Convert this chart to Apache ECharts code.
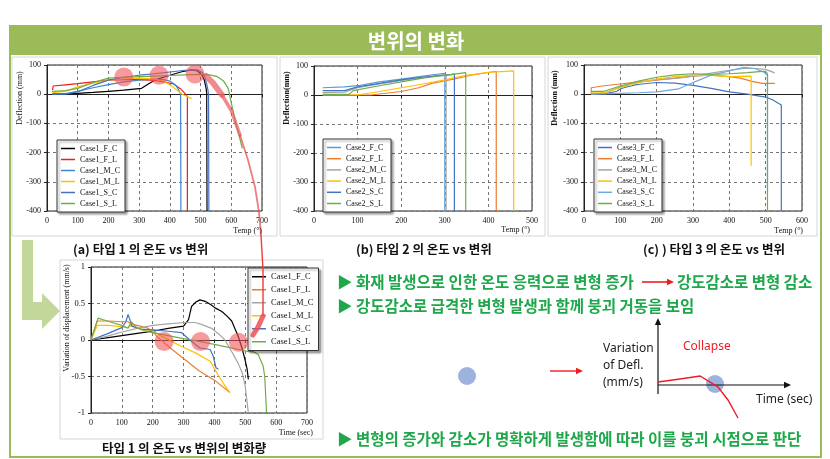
<!DOCTYPE html>
<html><head><meta charset="utf-8">
<script src="https://cdn.jsdelivr.net/npm/echarts@6/dist/echarts.min.js"></script>
<style>html,body{margin:0;padding:0;background:#fff}#c{width:830px;height:459px}</style>
</head><body><div id="c"></div>
<script>
// ---------- Data: (a) Type 1 Temp vs Deflection ----------
const case1_F_C = [[17,0],[50,1],[100,3],[150,6],[200,10],[250,14],[308,20],[330,35],[352,49],[400,65],[439,77],[471,83],[490,80],[505,65],[512,49],[518,20],[520,3],[521,-400]];
const case1_F_L = [[18,14],[20,28],[60,32],[100,36],[150,42],[200,48],[250,50],[300,50],[350,47],[380,42],[412,35],[435,18],[449,3],[457,-8],[457,-400]];
const case1_M_C = [[17,0],[60,2],[100,10],[150,22],[200,33],[250,42],[300,48],[350,52],[380,50],[400,45],[420,30],[430,12],[435,0],[436,-400]];
const case1_M_L = [[17,5],[60,10],[100,25],[150,38],[200,48],[250,52],[300,55],[350,52],[380,45],[410,25],[440,0],[471,-15]];
const case1_S_C = [[17,0],[60,0],[100,8],[150,30],[200,48],[250,58],[300,65],[350,70],[400,76],[450,82],[490,83],[505,75],[515,55],[522,26],[526,0],[527,-400]];
const case1_S_L = [[17,10],[60,12],[100,20],[150,40],[200,55],[250,58],[300,60],[350,62],[400,64],[450,66],[500,68],[530,66],[555,60],[575,45],[590,20],[600,-30],[615,-100],[625,-140],[636,-186]];
const circlesA = [[250,59],[365,65],[482,69]];

// ---------- Data: (b) Type 2 ----------
const case2_F_C = [[20,25],[70,28],[100,32],[150,45],[200,55],[250,65],[300,75],[300,-400]];
const case2_F_L = [[20,0],[130,0],[200,12],[240,25],[270,40],[320,55],[360,68],[418,82],[418,-400]];
const case2_M_C = [[20,8],[70,10],[100,25],[150,38],[200,50],[250,60],[303,72],[303,-400]];
const case2_M_L = [[20,0],[100,0],[150,12],[200,25],[250,38],[300,52],[350,68],[400,78],[458,83],[458,-400]];
const case2_S_C = [[20,15],[70,15],[100,28],[150,40],[200,52],[250,62],[300,68],[322,72],[322,-400]];
const case2_S_L = [[20,2],[80,2],[90,15],[150,32],[200,45],[250,58],[300,68],[348,77],[348,-400]];

// ---------- Data: (c) Type 3 ----------
const case3_F_C = [[20,0],[60,2],[90,10],[100,18],[105,14],[110,22],[115,17],[120,26],[125,20],[130,28],[135,24],[140,32],[160,35],[200,40],[250,38],[300,30],[350,20],[400,8],[450,0],[500,-10],[520,-20],[543,-37],[543,-400]];
const case3_F_L = [[20,0],[20,22],[50,28],[100,35],[150,42],[200,48],[250,55],[300,62],[350,65],[400,60],[430,55],[460,45],[490,37],[525,37]];
const case3_M_C = [[20,0],[60,5],[100,25],[150,40],[200,50],[260,55],[300,62],[350,72],[400,82],[440,88],[470,88],[500,85],[525,73]];
const case3_M_L = [[20,5],[55,5],[100,22],[150,40],[200,52],[250,60],[300,65],[350,64],[400,60],[460,62],[460,-245]];
const case3_S_C = [[20,0],[100,3],[150,5],[200,8],[260,18],[290,35],[320,50],[350,65],[400,80],[440,92],[470,88],[495,75],[505,65],[505,-330]];
const case3_S_L = [[20,10],[55,10],[100,28],[150,45],[200,58],[250,66],[300,70],[350,68],[400,70],[450,74],[490,78],[500,78],[505,70],[505,-400]];

// ---------- Data: (d) Type 1 Time vs variation of displacement ----------
const var1_F_C = [[0,0],[50,0.03],[100,0.06],[150,0.09],[200,0.12],[250,0.16],[300,0.19],[316,0.28],[326,0.46],[340,0.52],[353,0.55],[370,0.53],[390,0.48],[402,0.44],[424,0.39],[440,0.33],[456,0.26],[470,0.12],[477,0.05],[490,-0.12],[499,-0.27],[506,-0.40],[510,-0.54]];
const var1_F_L = [[0,0],[20,0.26],[60,0.26],[100,0.25],[120,0.25],[130,0.22],[180,0.17],[200,0.12],[213,0.05],[260,-0.12],[305,-0.27],[350,-0.42],[400,-0.55],[450,-0.72]];
const var1_M_C = [[0,0],[50,0.05],[100,0.11],[150,0.16],[200,0.2],[250,0.22],[305,0.24],[337,0.24],[360,0.21],[391,0.16],[415,0.08],[434,0],[455,-0.15],[477,-0.32],[490,-0.45],[499,-0.61],[510,-1.0]];
const var1_M_L = [[0,0],[20,0.2],[60,0.2],[120,0.17],[130,0.2],[150,0.16],[200,0.12],[230,0.05],[294,-0.09],[340,-0.18],[386,-0.29],[412,-0.48],[430,-0.6],[450,-0.72]];
const var1_S_C = [[0,0],[50,0.08],[100,0.17],[113,0.25],[120,0.35],[126,0.28],[132,0.19],[160,0.15],[200,0.14],[250,0.12],[294,0.10],[320,0.0],[353,-0.11],[386,-0.13],[396,-0.22],[405,-0.38],[413,-0.40]];
const var1_S_L = [[0,0],[23,0.30],[60,0.25],[100,0.2],[120,0.16],[130,0.25],[145,0.18],[170,0.13],[200,0.1],[250,0.06],[300,0.02],[350,-0.02],[400,-0.06],[434,-0.09],[480,-0.13],[510,-0.16],[526,-0.16],[542,-0.2],[558,-0.36],[563,-0.5],[569,-1.0]];
const circlesD = [[237,-0.02],[355,-0.02],[478,-0.03]];

const names1 = ['Case1_F_C','Case1_F_L','Case1_M_C','Case1_M_L','Case1_S_C','Case1_S_L'];
const names2 = ['Case2_F_C','Case2_F_L','Case2_M_C','Case2_M_L','Case2_S_C','Case2_S_L'];
const names3 = ['Case3_F_C','Case3_F_L','Case3_M_C','Case3_M_L','Case3_S_C','Case3_S_L'];
const colorsA = ['#000000','#e8201e','#3a86d6','#ffc000','#4472c4','#70ad47'];
const colorsB = ['#5b9bd5','#ed7d31','#a5a5a5','#ffc000','#4472c4','#70ad47'];
const colorsC = ['#4472c4','#ed7d31','#a5a5a5','#ffc000','#6fa8e0','#70ad47'];
const colorsD = ['#000000','#ed7d31','#a5a5a5','#ffc000','#4472c4','#70ad47'];

const dataA = [case1_F_C,case1_F_L,case1_M_C,case1_M_L,case1_S_C,case1_S_L];
const dataB = [case2_F_C,case2_F_L,case2_M_C,case2_M_L,case2_S_C,case2_S_L];
const dataC = [case3_F_C,case3_F_L,case3_M_C,case3_M_L,case3_S_C,case3_S_L];
const dataD = [var1_F_C,var1_F_L,var1_M_C,var1_M_L,var1_S_C,var1_S_L];

const SERIF = 'Liberation Serif';
const KR = 'Noto Sans CJK KR';
const GREEN = '#9bbb59';
const TXTGREEN = '#1ea84b';

function xAx(gi, max){
  return {type:'value', gridIndex:gi, min:0, max:max, interval:100,
    axisLine:{show:true, lineStyle:{color:'#222', width:1}},
    axisTick:{show:true, length:3, lineStyle:{color:'#222'}},
    axisLabel:{fontFamily:SERIF, fontSize:8, color:'#111', margin:6},
    splitLine:{show:true, lineStyle:{type:[3,3], color:'#777', width:1}}};
}
function yAx(gi, min, max, iv, fs){
  return {type:'value', gridIndex:gi, min:min, max:max, interval:iv,
    axisLine:{show:true, lineStyle:{color:'#222', width:1}},
    axisTick:{show:true, length:3, lineStyle:{color:'#222'}},
    axisLabel:{fontFamily:SERIF, fontSize:fs, color:'#111', margin:6},
    splitLine:{show:true, lineStyle:{type:[3,3], color:'#777', width:1}}};
}
const series = [];
function addLines(names, datas, colors, gi, prefix){
  names.forEach((n,i)=>{
    series.push({type:'line', name:prefix+n, xAxisIndex:gi, yAxisIndex:gi, data:datas[i],
      symbol:'none', showSymbol:false, animation:false, z:3,
      lineStyle:{width:1.2, color:colors[i]}, itemStyle:{color:colors[i]}});
  });
}
addLines(names1, dataA, colorsA, 0, 'a:');
addLines(names2, dataB, colorsB, 1, 'b:');
addLines(names3, dataC, colorsC, 2, 'c:');
addLines(names1, dataD, colorsD, 3, 'd:');
series.push({type:'scatter', name:'markA', xAxisIndex:0, yAxisIndex:0, data:circlesA, symbolSize:19, z:5, animation:false,
  itemStyle:{color:'rgba(240,80,85,0.72)'}});
series.push({type:'scatter', name:'markD', xAxisIndex:3, yAxisIndex:3, data:circlesD, symbolSize:19, z:5, animation:false,
  itemStyle:{color:'rgba(240,80,85,0.72)'}});

function legend(prefix, names, left, top, fs, gap){
  return {show:true, selectedMode:false, orient:'vertical', left:left, top:top,
    data:names.map(n=>prefix+n), formatter:n=>n.slice(2), icon:'rect',
    itemWidth:14, itemHeight:1.5, itemGap:gap, padding:[4,5,4,4],
    backgroundColor:'#fff', borderColor:'#333', borderWidth:1,
    shadowColor:'rgba(0,0,0,0.35)', shadowBlur:2, shadowOffsetX:2, shadowOffsetY:2,
    textStyle:{fontFamily:SERIF, fontSize:fs, color:'#111', lineHeight:fs+1}, z:10};
}

function txt(x,y,text,opt){
  return Object.assign({type:'text', x:x, y:y, z:50, style:Object.assign({text:text, fill:'#111', font:'8px '+SERIF, textAlign:'left', textVerticalAlign:'middle'}, opt||{})});
}
function rtxt(x,y,text,font){
  return {type:'text', x:x, y:y, rotation:Math.PI/2, z:50, style:{text:text, fill:'#111', font:font, textAlign:'center', textVerticalAlign:'middle'}};
}
function panel(x,y,w,h){
  return {type:'rect', z:-10, shape:{x:x,y:y,width:w,height:h}, style:{fill:'#fff', stroke:'#d6d6d6', lineWidth:1}};
}
function arrowLine(x1,y1,x2,y2,color,w,head){
  const ang = Math.atan2(y2-y1,x2-x1);
  const hx = x2 - head*Math.cos(ang), hy = y2 - head*Math.sin(ang);
  const px = -Math.sin(ang)*head*0.45, py = Math.cos(ang)*head*0.45;
  return [
    {type:'line', z:40, shape:{x1:x1,y1:y1,x2:hx,y2:hy}, style:{stroke:color, lineWidth:w}},
    {type:'polygon', z:40, shape:{points:[[x2,y2],[hx+px,hy+py],[hx-px,hy-py]]}, style:{fill:color}}
  ];
}

const kb = 'bold 15.5px "'+KR+'"';
const cap = 'bold 12.5px "'+KR+'"';
const graphics = [
  {type:'rect', z:-20, shape:{x:10,y:26,width:811,height:431}, style:{fill:'#fff', stroke:GREEN, lineWidth:2}},
  {type:'rect', z:-19, shape:{x:10,y:26,width:812,height:29}, style:{fill:GREEN}},
  txt(416,41,'변위의 변화',{fill:'#fff', font:'bold 20px "'+KR+'"', textAlign:'center'}),
  panel(12,57,265,179), panel(280,57,265,179), panel(548,57,269,179), panel(60,260,263,179),
  // L-shaped arrow
  {type:'polygon', z:-5, shape:{points:[[22,240],[33,240],[33,302],[42,302],[42,293],[60,311],[42,329],[42,320],[22,320]]}, style:{fill:'#c4d79b'}},
  // axis names
  rtxt(20,98,'Deflection (mm)','8px '+SERIF),
  rtxt(287,98,'Deflection(mm)','bold 8px '+SERIF),
  rtxt(555,98,'Deflection (mm)','bold 8px '+SERIF),
  rtxt(67,318,'Variation of displacement (mm/s)','8px '+SERIF),
  txt(262,231,'Temp (°)',{textAlign:'right', font:'8px '+SERIF}),
  txt(530,230,'Temp (°)',{textAlign:'right', font:'8px '+SERIF}),
  txt(803,231,'Temp (°)',{textAlign:'right', font:'8px '+SERIF}),
  txt(313,433,'Time (sec)',{textAlign:'right', font:'8px '+SERIF}),
  // captions
  txt(73,249,'(a) 타입 1 의 온도 vs 변위',{font:cap}),
  txt(356,249,'(b) 타입 2 의 온도 vs 변위',{font:cap}),
  txt(643,249,'(c) ) 타입 3 의 온도 vs 변위',{font:cap}),
  txt(102,448,'타입 1 의 온도 vs 변위의 변화량',{font:cap}),
  // bullet text
  txt(337,282,'▶ 화재 발생으로 인한 온도 응력으로 변형 증가',{font:kb, fill:TXTGREEN}),
  txt(677,282,'강도감소로 변형 감소',{font:kb, fill:TXTGREEN}),
  txt(337,306,'▶ 강도감소로 급격한 변형 발생과 함께 붕괴 거동을 보임',{font:kb, fill:TXTGREEN}),
  txt(337,439,'▶ 변형의 증가와 감소가 명확하게 발생함에 따라 이를 붕괴 시점으로 판단',{font:kb, fill:TXTGREEN}),
  // schematic
  txt(603,349,'Variation',{font:'12px "Noto Sans"', fill:'#222'}),
  txt(603,366,'of Defl.',{font:'12px "Noto Sans"', fill:'#222'}),
  txt(603,383,'(mm/s)',{font:'12px "Noto Sans"', fill:'#222'}),
  txt(683,347,'Collapse',{font:'12px "Noto Sans"', fill:'#ee1c24'}),
  txt(756,400,'Time (sec)',{font:'12px "Noto Sans"', fill:'#222'}),
  {type:'circle', z:35, shape:{cx:467,cy:376,r:9}, style:{fill:'rgba(140,165,215,0.85)'}},
  {type:'circle', z:35, shape:{cx:715,cy:384,r:9}, style:{fill:'rgba(140,165,215,0.85)'}},
  {type:'polyline', z:41, shape:{points:[[658,382],[680,379],[700,376],[718,387],[728,400],[738,418]]}, style:{stroke:'#ee1c24', lineWidth:1.4, fill:null}},
  // red connector from chart (a) to chart (d)
  {type:'polyline', z:30, shape:{points:[[206,76],[213,83],[222,95]]}, style:{stroke:'rgba(232,90,95,0.7)', lineWidth:6, fill:null, lineCap:'round'}},
  {type:'polyline', z:30, shape:{points:[[222,95],[231,110],[240,135]]}, style:{stroke:'rgba(232,90,95,0.7)', lineWidth:3.5, fill:null, lineCap:'round'}},
  {type:'polyline', z:30, shape:{points:[[240,135],[248,160],[255,187],[259,212],[261,235]]}, style:{stroke:'rgba(235,80,85,0.75)', lineWidth:1.8, fill:null, lineCap:'round'}},
  {type:'polyline', z:30, shape:{points:[[261,235],[263,270],[263,300],[263,316]]}, style:{stroke:'#f03a3a', lineWidth:1.4, fill:null}},
  {type:'polyline', z:30, shape:{points:[[263,316],[258,327],[253,335]]}, style:{stroke:'rgba(235,80,85,0.85)', lineWidth:5, fill:null, lineCap:'round'}}
];
graphics.push(...arrowLine(550,371,583,371,'#ee1c24',1.4,7));
graphics.push(...arrowLine(642,282,674,282,'#ee1c24',1.6,7));
graphics.push(...arrowLine(658,394,658,318,'#111',1.2,7));
graphics.push(...arrowLine(658,385,791,385,'#111',1.2,7));

const option = {
  animation:false,
  backgroundColor:'#fff',
  grid:[
    {left:47, top:65, width:215, height:146, show:true, borderColor:'#222', borderWidth:1, backgroundColor:'transparent'},
    {left:314, top:66, width:218, height:145, show:true, borderColor:'#222', borderWidth:1, backgroundColor:'transparent'},
    {left:584, top:65, width:218, height:146, show:true, borderColor:'#222', borderWidth:1, backgroundColor:'transparent'},
    {left:91, top:267, width:216, height:146, show:true, borderColor:'#222', borderWidth:1, backgroundColor:'transparent'}
  ],
  xAxis:[xAx(0,700), xAx(1,500), xAx(2,600), xAx(3,700)],
  yAxis:[yAx(0,-400,100,100,8), yAx(1,-400,100,100,8), yAx(2,-400,100,100,8), yAx(3,-1,1,0.5,8.5)],
  legend:[
    legend('a:', names1, 57, 140, 8, 2),
    legend('b:', names2, 323, 139, 8, 2.2),
    legend('c:', names3, 594, 139, 8, 2.2),
    legend('d:', names1, 248, 268, 8.5, 3.5)
  ],
  series:series,
  graphic:{elements:graphics}
};
const chart = echarts.init(document.getElementById('c'), null, {renderer:'canvas'});
chart.setOption(option);
</script></body></html>
